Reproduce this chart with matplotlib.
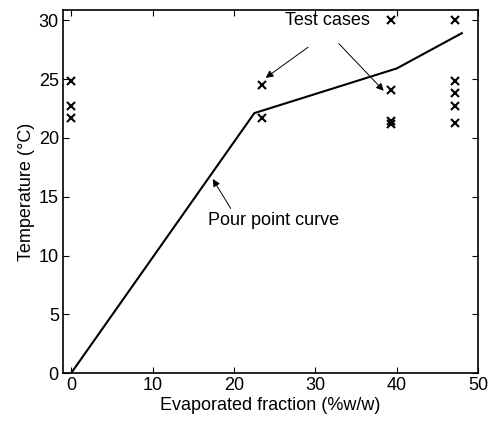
import matplotlib
matplotlib.use("Agg")
import matplotlib.pyplot as plt

plt.rcParams['font.family'] = ['Liberation Sans', 'DejaVu Sans']

curve_x = [0, 22.5, 40, 48]
curve_y = [0, 22.1, 25.9, 28.9]

case_x = [0, 0, 0, 23.5, 23.5, 39.3, 39.3, 39.3, 39.3, 47.2, 47.2, 47.2, 47.2, 47.2]
case_y = [24.8, 22.7, 21.7, 24.5, 21.7, 30.0, 24.05, 21.4, 21.2, 30.0, 24.8, 23.8, 22.7, 21.3]

xticks = [0, 10, 20, 30, 40, 50]
yticks = [0, 5, 10, 15, 20, 25, 30]

fs = 13
fig = plt.figure(figsize=(4.96, 4.25), dpi=100)
ax = fig.add_axes([0.127, 0.122, 0.837, 0.854])
ax.plot(curve_x, curve_y, color='k', lw=1.5)
ax.plot(case_x, case_y, ls='none', marker='x', color='k', ms=5.5, mew=1.5)

ax.set_xlim(-1, 50)
ax.set_ylim(0, 30.85)
ax.set_xticks(xticks)
ax.set_yticks(yticks)
ax.tick_params(direction='in', top=True, right=True, labelsize=fs, length=4, pad=3)
for s in ax.spines.values():
    s.set_linewidth(1.2)
ax.set_xlabel('Evaporated fraction (%w/w)', fontsize=fs, labelpad=2)
ax.set_ylabel('Temperature (°C)', fontsize=fs, labelpad=3)

ap = dict(arrowstyle='-|>', lw=0.7, color='k', mutation_scale=11, shrinkA=0, shrinkB=0)
ax.text(31.5, 30.0, 'Test cases', ha='center', va='center', fontsize=fs)
ax.annotate('', xy=(23.9, 25.1), xytext=(29.1, 27.7), arrowprops=ap)
ax.annotate('', xy=(38.4, 24.0), xytext=(32.9, 28.0), arrowprops=ap)
ax.text(24.9, 13.0, 'Pour point curve', ha='center', va='center', fontsize=fs)
ax.annotate('', xy=(17.4, 16.5), xytext=(19.6, 14.0), arrowprops=ap)

fig.savefig('out.png', dpi=100)
